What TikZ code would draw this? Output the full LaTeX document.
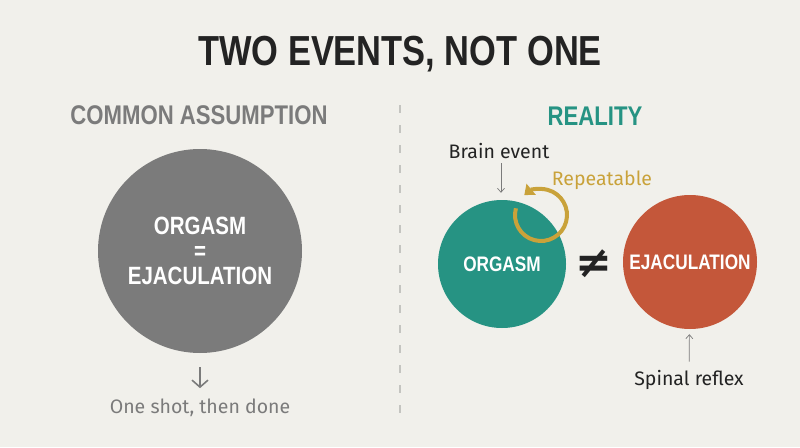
\documentclass[tikz,border=0pt]{standalone}
\usepackage{fontspec}
\setmainfont{Fira Sans}
\newfontfamily\condfont[FakeStretch=0.82]{Liberation Sans}
\newfontfamily\symfont{DejaVu Sans}
\usetikzlibrary{arrows.meta,positioning}
\definecolor{paper}{HTML}{F1F0EB}
\definecolor{inkx}{HTML}{232323}
\definecolor{grayx}{HTML}{7B7B7B}
\definecolor{tealx}{HTML}{269383}
\definecolor{rustx}{HTML}{C4573A}
\definecolor{goldx}{HTML}{C9A23A}
\definecolor{rulex}{HTML}{C4C4C0}
\tikzset{
  head/.style={font=\condfont\bfseries\fontsize{27}{30}\selectfont,anchor=base,inner sep=0pt},
  blob/.style={circle,inner sep=0pt,text=white,align=center,font=\condfont\bfseries\fontsize{21}{24}\selectfont},
  note/.style={font=\fontsize{19.5}{21}\selectfont,anchor=base,inner sep=0pt},
  thin/.style={-{Straight Barb[length=4pt,width=7pt]},grayx,line width=0.7pt}
}
\begin{document}
\begin{tikzpicture}[x=1pt,y=-1pt]
\fill[paper] (0,0) rectangle (800,447);
\node[font=\condfont\bfseries\fontsize{42}{44}\selectfont,text=inkx,anchor=base,inner sep=0pt] (title) at (400,65) {TWO EVENTS, NOT ONE};
% left half
\node[head,text=grayx] (common) at (199,124) {COMMON ASSUMPTION};
\node[blob,fill=grayx,minimum size=204pt,font=\condfont\bfseries\fontsize{25}{25}\selectfont] (assume) at (200,251) {ORGASM\\=\\EJACULATION};
\node[note,text=grayx,font=\fontsize{19.5}{21}\selectfont] (oneshot) at (200,413) {One shot, then done};
\draw[-{Straight Barb[length=7pt,width=16pt]},grayx,line width=1.6pt,shorten <=14pt,shorten >=10pt] (assume) -- (oneshot);
\draw[rulex,line width=2pt,dash pattern=on 8pt off 12pt] (400,105) -- (400,415);
% right half
\node[head,text=tealx] (reality) at (595,125) {REALITY};
\node[blob,fill=tealx,minimum size=128pt] (orgasm) at (502,264) {ORGASM};
\node[blob,fill=rustx,minimum size=134pt] (ejac) at (690,262) {EJACULATION};
\node[font=\symfont\bfseries\fontsize{44}{46}\selectfont,text=inkx,inner sep=0pt] (neq) at (594,264) {≠};
\node[note,text=inkx] (brain) at (499,158) {Brain event};
\draw[thin,shorten <=5pt,shorten >=7pt] (brain.south -| 501,0) -- (orgasm.north -| 501,0);
\node[note,text=goldx] (repeat) at (602,185) {Repeatable};
\draw[goldx,line width=4pt,-{Triangle[length=9pt,width=14pt]}] (541,215) ++(195:26) arc[start angle=195,end angle=-130,radius=26];
\node[note,text=inkx] (spinal) at (689,385) {Spinal reflex};
\draw[thin,shorten <=8pt,shorten >=5pt] (spinal) -- (ejac);
\end{tikzpicture}
\end{document}
